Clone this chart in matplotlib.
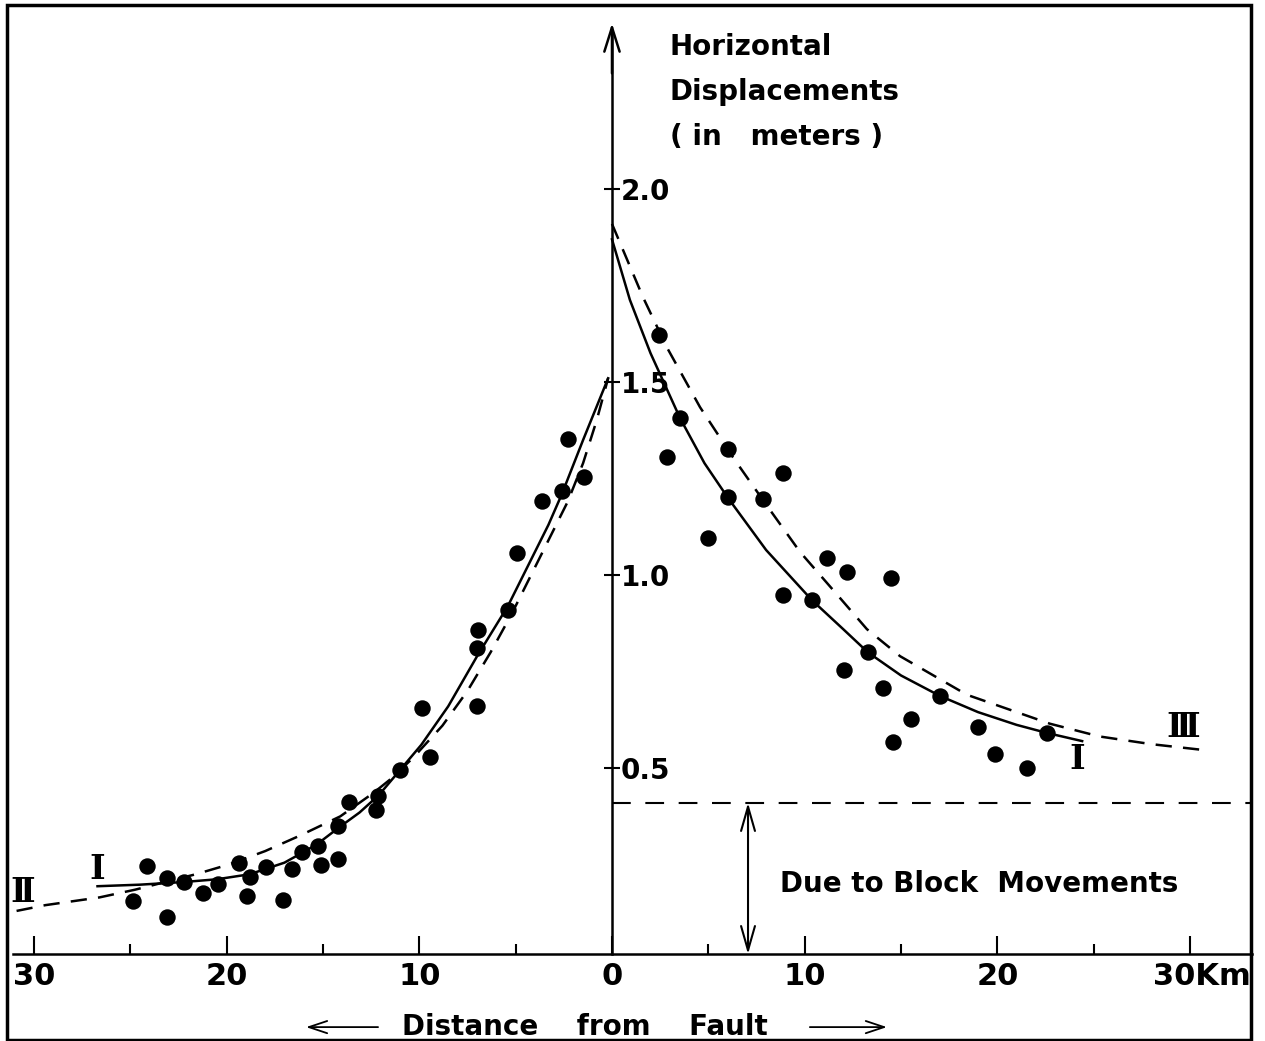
import matplotlib
matplotlib.use("Agg")
import matplotlib.pyplot as plt
from matplotlib.patches import Rectangle

plt.rcParams['font.family'] = ['DejaVu Sans']
plt.rcParams['font.weight'] = 'bold'

# ---------------- data (distance in km, left of fault negative; displacement in m)
left_x = [-1.45, -2.28, -2.59, -3.63, -4.93, -5.40, -6.95, -7.01, -7.01, -9.86, -9.44,
          -11.0, -12.14, -12.25, -13.65, -14.22, -14.22, -15.10, -15.26, -16.09, -16.61,
          -17.07, -17.96, -18.79, -18.94, -19.36, -20.45, -21.22, -22.21, -23.09, -23.09,
          -24.13, -24.86]
left_y = [1.254, 1.352, 1.218, 1.192, 1.057, 0.909, 0.858, 0.811, 0.661, 0.655, 0.528,
          0.495, 0.427, 0.391, 0.412, 0.350, 0.264, 0.249, 0.298, 0.282, 0.238,
          0.158, 0.244, 0.218, 0.168, 0.254, 0.199, 0.176, 0.205, 0.215, 0.114,
          0.246, 0.155]

right_x = [2.44, 2.85, 3.53, 4.98, 6.02, 6.02, 7.84, 8.87, 8.87, 10.38, 11.16, 12.20,
           12.04, 13.28, 14.06, 14.48, 14.58, 15.52, 17.02, 18.99, 19.88, 21.54, 22.58]
right_y = [1.622, 1.306, 1.407, 1.096, 1.326, 1.202, 1.197, 1.264, 0.948, 0.935, 1.044,
           1.008, 0.754, 0.801, 0.707, 0.992, 0.567, 0.627, 0.687, 0.606, 0.536, 0.500,
           0.591]

# curve I (solid), left of fault
curve1_left_x = [-26.7, -24.5, -22.2, -20.5, -18.8, -17.0, -16.1, -15.3, -14.2, -13.1,
                 -12.1, -11.0, -9.9, -8.5, -7.0, -5.4, -4.2, -3.3, -2.6, -1.5, -0.2]
curve1_left_y = [0.194, 0.198, 0.205, 0.212, 0.225, 0.255, 0.280, 0.303, 0.345, 0.385,
                 0.430, 0.495, 0.560, 0.660, 0.790, 0.920, 1.040, 1.130, 1.210, 1.350, 1.510]

# curve II (dashed), left of fault
curve2_x = [-30.9, -29.4, -26.6, -24.75, -21.6, -19.9, -18.0, -16.2, -14.1, -12.4,
            -11.4, -10.3, -8.8, -7.5, -6.3, -5.2, -4.15, -3.2, -2.3, -1.5, -0.8, -0.2]
curve2_y = [0.130, 0.145, 0.165, 0.185, 0.225, 0.250, 0.285, 0.325, 0.375, 0.435,
            0.475, 0.528, 0.610, 0.700, 0.800, 0.900, 1.005, 1.100, 1.190, 1.290, 1.400, 1.510]

# curve I (solid), right of fault
curve1_right_x = [0.0, 0.93, 2.0, 3.53, 4.8, 6.02, 8.0, 10.38, 12.0, 13.28, 15.0, 17.02,
                  19.0, 21.0, 22.58, 24.4]
curve1_right_y = [1.870, 1.713, 1.575, 1.407, 1.290, 1.200, 1.065, 0.935, 0.860, 0.800,
                  0.740, 0.687, 0.645, 0.612, 0.591, 0.570]

# curve III (dashed), right of fault
curve3_x = [0.0, 1.61, 2.85, 4.57, 6.28, 8.04, 9.76, 11.5, 13.23, 14.95, 18.42, 22.73,
            25.3, 28.0, 30.5]
curve3_y = [1.910, 1.720, 1.590, 1.435, 1.305, 1.180, 1.060, 0.960, 0.860, 0.790, 0.690,
            0.615, 0.582, 0.562, 0.548]

block_level = 0.41        # displacement due to block movements (m)
block_arrow_x = 7.06      # km

x_major = [-30, -20, -10, 0, 10, 20, 30]
x_major_labels = ['30', '20', '10', '0', '10', '20', '']
x_last_label = '30Km'
x_minor = [-25, -15, -5, 5, 15, 25]
y_ticks = [0.5, 1.0, 1.5, 2.0]
y_tick_labels = ['0.5', '1.0', '1.5', '2.0']

# ---------------- figure
fig = plt.figure(figsize=(12.65, 10.41), dpi=100)
ax = fig.add_axes([0, 0, 1, 1])
ax.set_xlim(-31.76, 33.89)
ax.set_ylim(-0.207, 2.490)
ax.patch.set_alpha(0)

y_base = 0.018
for s in ['top', 'left']:
    ax.spines[s].set_visible(False)
ax.spines['bottom'].set_position(('data', y_base))
ax.spines['bottom'].set_bounds(-31.08, 33.2)
ax.spines['bottom'].set_linewidth(1.8)
ax.spines['right'].set_position(('data', 0))
ax.spines['right'].set_bounds(y_base, 2.40)
ax.spines['right'].set_linewidth(1.8)

ax.xaxis.set_ticks_position('bottom')
ax.set_xticks(x_major)
ax.set_xticklabels(x_major_labels)
ax.set_xticks(x_minor, minor=True)
ax.tick_params(axis='x', which='major', direction='in', length=13, width=1.5,
               pad=6, labelsize=22)
ax.tick_params(axis='x', which='minor', direction='in', length=7, width=1.5)

ax.yaxis.set_ticks_position('right')
ax.set_yticks(y_ticks)
ax.set_yticklabels(y_tick_labels)
ax.tick_params(axis='y', direction='inout', length=11, width=1.5, pad=1, labelsize=20)

# vertical axis arrow head
ax.annotate('', xy=(0, 2.43), xytext=(0, 2.30),
            arrowprops=dict(arrowstyle='->,head_length=0.7,head_width=0.22',
                            lw=1.8, mutation_scale=25, shrinkA=0, shrinkB=0))

# curves
ax.plot(curve1_left_x, curve1_left_y, color='black', lw=1.8)
ax.plot(curve1_right_x, curve1_right_y, color='black', lw=1.8)
ax.plot(curve2_x, curve2_y, color='black', lw=1.8, ls=(0, (6.5, 4.5)))
ax.plot(curve3_x, curve3_y, color='black', lw=1.8, ls=(0, (6.5, 4.5)))

# data points
ax.scatter(left_x, left_y, s=140, color='black', zorder=3, linewidths=0)
ax.scatter(right_x, right_y, s=140, color='black', zorder=3, linewidths=0)

# block movements level
ax.plot([0, 33.2], [block_level, block_level], color='black', lw=1.5,
        ls=(0, (9, 7)))
ax.annotate('', xy=(block_arrow_x, y_base), xytext=(block_arrow_x, block_level),
            arrowprops=dict(arrowstyle='<->,head_length=0.7,head_width=0.2',
                            lw=1.5, mutation_scale=25, shrinkA=0, shrinkB=0))
ax.text(8.72, 0.179, 'Due to Block  Movements', fontsize=20, ha='left',
        va='baseline')

# y label
ax.text(3.01, 2.347, 'Horizontal', fontsize=20, ha='left', va='baseline')
ax.text(3.01, 2.231, 'Displacements', fontsize=20, ha='left', va='baseline')
ax.text(3.01, 2.114, '( in   meters )', fontsize=20, ha='left', va='baseline')

# x label
ax.text(28.1, -0.040, x_last_label, fontsize=22, ha='left', va='center')
ax.text(-1.4, -0.171, 'Distance    from    Fault', fontsize=20, ha='center',
        va='center')
ax.annotate('', xy=(-15.88, -0.171), xytext=(-12.14, -0.171),
            arrowprops=dict(arrowstyle='->,head_length=0.6,head_width=0.2',
                            lw=1.3, mutation_scale=22, shrinkA=0, shrinkB=0))
ax.annotate('', xy=(14.27, -0.171), xytext=(10.27, -0.171),
            arrowprops=dict(arrowstyle='->,head_length=0.6,head_width=0.2',
                            lw=1.3, mutation_scale=22, shrinkA=0, shrinkB=0))

# curve labels
ax.text(-26.7, 0.238, 'Ⅰ', fontsize=24, family='DejaVu Serif', ha='center', va='center')
ax.text(-30.57, 0.179, 'Ⅱ', fontsize=24, family='DejaVu Serif', ha='center', va='center')
ax.text(24.13, 0.523, 'Ⅰ', fontsize=24, family='DejaVu Serif', ha='center', va='center')
ax.text(29.63, 0.604, 'Ⅲ', fontsize=24, family='DejaVu Serif', ha='center', va='center')

# frame
fig.add_artist(Rectangle((0.0055, 0.001), 0.9835, 0.994, transform=fig.transFigure,
                         fill=False, lw=2.5, ec='black'))

fig.savefig('out.png', dpi=100)
